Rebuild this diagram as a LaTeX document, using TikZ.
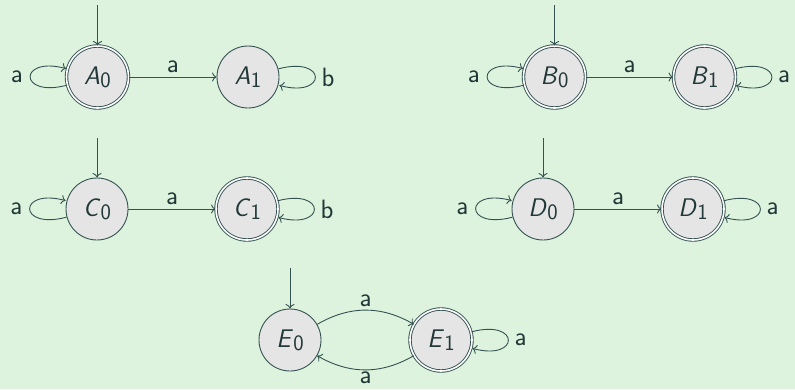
\documentclass[tikz,border=0pt]{standalone}
\usetikzlibrary{arrows.meta}
\definecolor{bgc}{RGB}{221,243,221}
\definecolor{nodef}{RGB}{229,229,229}
\definecolor{linec}{RGB}{52,82,82}
\definecolor{txtc}{RGB}{34,56,56}
\newcommand{\stname}[2]{\textit{#1}\kern0.3pt\raisebox{-3pt}{\fontsize{22}{24}\selectfont #2}}
\begin{document}
\begin{tikzpicture}[x=1pt,y=-1pt,
  >={To[length=4.5pt,width=9pt]},
  st/.style={circle,draw=linec,fill=nodef,line width=0.9pt,minimum size=62pt,inner sep=0pt,text=txtc,font=\fontsize{25.5}{30}\selectfont\sffamily},
  acc/.style={st,double=white,double distance=1.6pt},
  tr/.style={->,draw=linec,line width=0.9pt},
  lab/.style={font=\fontsize{26.5}{30}\selectfont\sffamily,text=txtc,inner sep=4pt},
  llab/.style={lab,inner sep=7pt},
  rlab/.style={lab,inner sep=6pt}]
\fill[bgc] (0,0) rectangle (795,389);
\useasboundingbox (0,0) rectangle (795,389);
% row A
\node[acc] (A0) at (97.5,77) {\stname{A}{0}};
\node[st]  (A1) at (248,77) {\stname{A}{1}};
\coordinate (iA) at (97.5,5);
\draw[tr] (iA) -- (A0);
\draw[tr] (A0) edge[loop left] node[llab,left] {a} (A0);
\draw[tr] (A0) -- node[lab,above] {a} (A1);
\draw[tr] (A1) edge[loop right] node[rlab,right] {b} (A1);
% row B
\node[acc] (B0) at (554.5,77) {\stname{B}{0}};
\node[acc] (B1) at (704.5,77) {\stname{B}{1}};
\coordinate (iB) at (554.5,5);
\draw[tr] (iB) -- (B0);
\draw[tr] (B0) edge[loop left] node[llab,left] {a} (B0);
\draw[tr] (B0) -- node[lab,above] {a} (B1);
\draw[tr] (B1) edge[loop right] node[rlab,right] {a} (B1);
% row C
\node[st]  (C0) at (97,209) {\stname{C}{0}};
\node[acc] (C1) at (247,209) {\stname{C}{1}};
\coordinate (iC) at (97,138);
\draw[tr] (iC) -- (C0);
\draw[tr] (C0) edge[loop left] node[llab,left] {a} (C0);
\draw[tr] (C0) -- node[lab,above] {a} (C1);
\draw[tr] (C1) edge[loop right] node[rlab,right] {b} (C1);
% row D
\node[st]  (D0) at (543,209) {\stname{D}{0}};
\node[acc] (D1) at (693,209) {\stname{D}{1}};
\coordinate (iD) at (543,138);
\draw[tr] (iD) -- (D0);
\draw[tr] (D0) edge[loop left] node[llab,left] {a} (D0);
\draw[tr] (D0) -- node[lab,above] {a} (D1);
\draw[tr] (D1) edge[loop right] node[rlab,right] {a} (D1);
% row E
\node[st]  (E0) at (290,340) {\stname{E}{0}};
\node[acc] (E1) at (441,340) {\stname{E}{1}};
\coordinate (iE) at (290,268);
\draw[tr] (iE) -- (E0);
\draw[tr] (E0) to[bend left=30] node[lab,above,inner sep=3pt] {a} (E1);
\draw[tr] (E1) to[bend left=30] node[lab,below,inner sep=1pt] {a} (E0);
\draw[tr] (E1) edge[loop right] node[rlab,right] {a} (E1);
\end{tikzpicture}
\end{document}
